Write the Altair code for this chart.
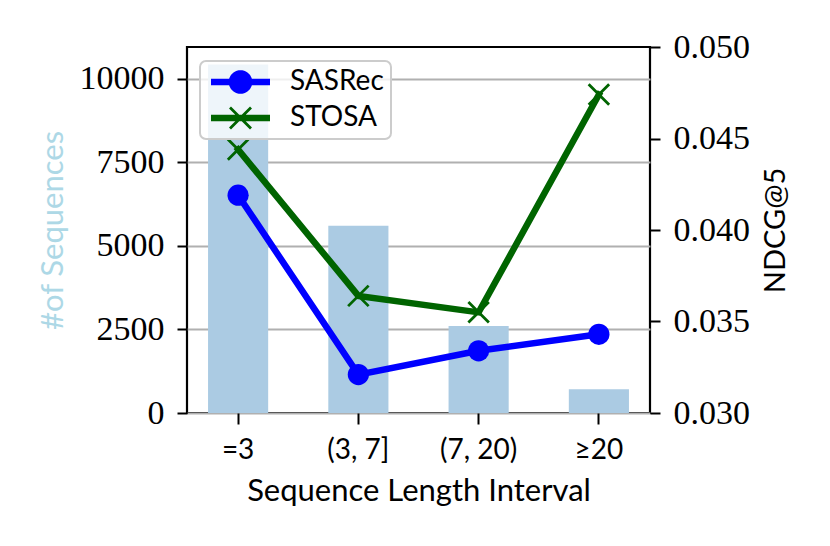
import math
import altair as alt
import pandas as pd

# ---- data ----
categories = ["=3", "(3, 7]", "(7, 20)", "≥20"]
num_sequences = [10430, 5600, 2605, 710]
series_names = ["SASRec", "STOSA"]
sasrec_ndcg = [0.0419, 0.0321, 0.0334, 0.0343]
stosa_ndcg = [0.0444, 0.0364, 0.0355, 0.0474]
left_ticks = [0, 2500, 5000, 7500, 10000]
right_ticks = [0.030, 0.035, 0.040, 0.045, 0.050]

bars_df = pd.DataFrame({"interval": categories, "count": num_sequences})
lines_df = pd.DataFrame({
    "interval": categories * 2,
    "series": [series_names[0]] * 4 + [series_names[1]] * 4,
    "ndcg": sasrec_ndcg + stosa_ndcg,
})

BLUE = "#0000ff"
GREEN = "#006400"
SANS = "Lato"
SERIF = "Liberation Serif"

# ---- legend glyphs (line + marker), units of 10px ----
def poly(pts):
    return "M" + "L".join(f"{x:.3f},{y:.3f}" for x, y in pts) + "Z"

x0, x1, cx, hw = -1.0, 4.9, 1.95, 0.32
line_rect = poly([(x0, -hw), (x1, -hw), (x1, hw), (x0, hw)])
r = 1.18
circle = poly([(cx + r * math.cos(2 * math.pi * k / 40), r * math.sin(2 * math.pi * k / 40)) for k in range(40)])
L, t = 1.05 * math.sqrt(2), 0.14
plus = [(-t, -L), (t, -L), (t, -t), (L, -t), (L, t), (t, t), (t, L), (-t, L), (-t, t), (-L, t), (-L, -t), (-t, -t)]
c45 = math.sqrt(0.5)
xshape = poly([(cx + (px - py) * c45, (px + py) * c45) for px, py in plus])
legend_paths = [line_rect + circle, line_rect + xshape]

x_enc = alt.X(
    "interval:N",
    sort=categories,
    scale=alt.Scale(domain=categories, paddingInner=0.5, paddingOuter=0.175),
    axis=alt.Axis(
        title="Sequence Length Interval", labelAngle=0, labelFont=SANS, labelFontSize=28,
        labelColor="black", labelBaseline="alphabetic", labelPadding=34,
        tickSize=11, tickWidth=2, tickColor="black", domain=False,
        titleFont=SANS, titleFontSize=31, titleFontWeight="normal", titleColor="black",
        titleBaseline="alphabetic", titleY=87, titleX=231.5, titleAlign="center",
    ),
)

bars = alt.Chart(bars_df).mark_bar(color="#abcbe3").encode(
    x=x_enc,
    y=alt.Y(
        "count:Q",
        scale=alt.Scale(domain=[0, 10950], nice=False, zero=True),
        axis=alt.Axis(
            values=left_ticks, format="d", grid=True, gridColor="#b0b0b0", gridWidth=2,
            domain=False, tickSize=10, tickWidth=2, tickColor="black",
            labelFont=SERIF, labelFontSize=34, labelColor="black", labelPadding=13,
            labelBaseline="middle",
            title="#of Sequences", titleColor="#add8e6", titleFont=SANS, titleFontSize=31,
            titleFontWeight="normal", titleAngle=270, titleX=-134, titleY=183,
            titleAlign="center", titleBaseline="middle",
        ),
    ),
)

y_right = alt.Y(
    "ndcg:Q",
    scale=alt.Scale(domain=[0.030, 0.050], nice=False, zero=False),
    axis=alt.Axis(
        orient="right", values=right_ticks, format=".3f", grid=False, domain=False,
        tickSize=10, tickWidth=2, tickColor="black",
        labelFont=SERIF, labelFontSize=34, labelColor="black", labelPadding=13,
        labelBaseline="middle",
        title="NDCG@5", titleColor="black", titleFont=SANS, titleFontSize=29,
        titleFontWeight="normal", titleAngle=270, titleX=125, titleY=183,
        titleAlign="center", titleBaseline="middle",
    ),
)

base = alt.Chart(lines_df)
sas = base.transform_filter(alt.datum.series == series_names[0])
sto = base.transform_filter(alt.datum.series == series_names[1])

sas_line = sas.mark_line(color=BLUE, strokeWidth=6.5).encode(x=x_enc, y=y_right)
sas_pts = sas.mark_point(shape="circle", filled=True, size=450, color=BLUE, opacity=1).encode(x=x_enc, y=y_right)
sto_line = sto.mark_line(color=GREEN, strokeWidth=6.5, strokeCap="square").encode(x=x_enc, y=y_right)
sto_pts = sto.mark_point(shape="M-1,-1L1,1M-1,1L1,-1", filled=False, size=420, strokeWidth=2.8,
                         color=GREEN, opacity=1).encode(x=x_enc, y=y_right)

leg = alt.Legend(
    title=None, orient="none", legendX=13, legendY=14,
    fillColor="rgba(255,255,255,0.8)", strokeColor="#cccccc", cornerRadius=6,
    padding=7, labelFont=SANS, labelFontSize=28, labelColor="black",
    labelOffset=55, symbolSize=400, symbolStrokeWidth=0, rowPadding=8,
)
legend_layer = base.transform_filter("false").mark_point(filled=True, opacity=1).encode(
    color=alt.Color("series:N", scale=alt.Scale(domain=series_names, range=[BLUE, GREEN]), legend=leg),
    shape=alt.Shape("series:N", scale=alt.Scale(domain=series_names, range=legend_paths), legend=leg),
)

right = alt.layer(sas_line, sas_pts, sto_line, sto_pts, legend_layer)

chart = alt.layer(bars, right).resolve_scale(y="independent").properties(
    width=463, height=366,
    autosize=alt.AutoSizeParams(type="none"),
    padding={"left": 179, "top": 39, "right": 170, "bottom": 120},
).configure_view(stroke="black", strokeWidth=2.2).configure_legend(strokeWidth=2)

chart.save("out.html", embed_options={"renderer": "svg", "actions": False})
